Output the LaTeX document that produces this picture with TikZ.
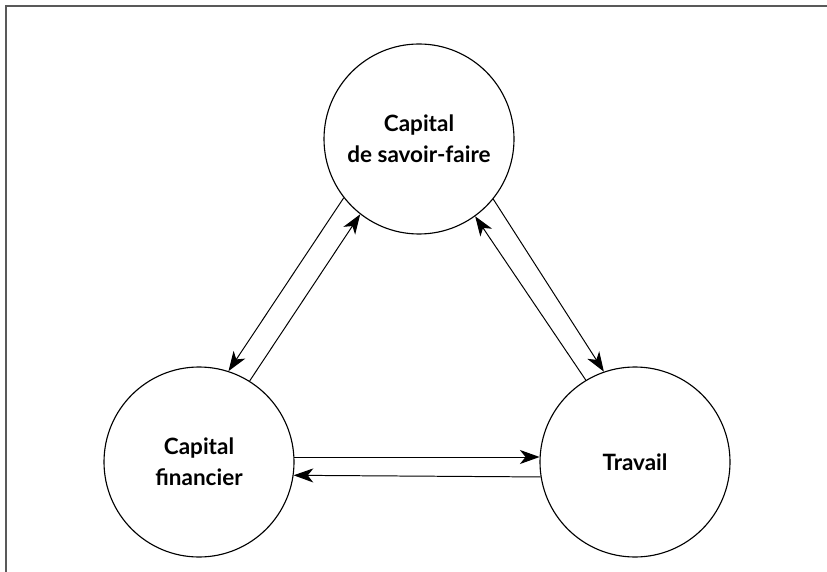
\documentclass[tikz,border=0pt]{standalone}
\usepackage{fontspec}
\setmainfont{Lato}
\usepackage{tikz}
\usetikzlibrary{arrows.meta, positioning}

\begin{document}
\begin{tikzpicture}[>={Stealth[length=14pt,width=10pt,inset=4pt]}, node distance=8cm, on grid,
    pole/.style={circle, draw, line width=0.8pt, minimum size=4.75cm, inner sep=0pt,
        align=center, font=\fontsize{16}{22}\selectfont\bfseries}]
    % Cadre
    \useasboundingbox (0,0) rectangle (20.675,-14.3);
    \draw[line width=1.4pt, black!65] (0.14,-14.3) |- (20.675,-0.16);

    % Nœuds
    \node[pole] (savoir) at (10.475,-3.475) {Capital\\de savoir-faire};
    \node[pole] (financier) [below left=8.075cm and 5.5cm of savoir] {Capital\\financier};
    \node[pole] (travail) [below right=8.075cm and 5.4cm of savoir] {Travail};

    % Flèches
    \path[->, line width=0.7pt]
        (savoir.218) edge (financier.72)
        (financier.58) edge (savoir.232)
        (savoir.321) edge (travail.109)
        (travail.121) edge (savoir.306)
        (financier.3) edge (travail.177)
        (travail.189) edge (financier.352);
\end{tikzpicture}
\end{document}
